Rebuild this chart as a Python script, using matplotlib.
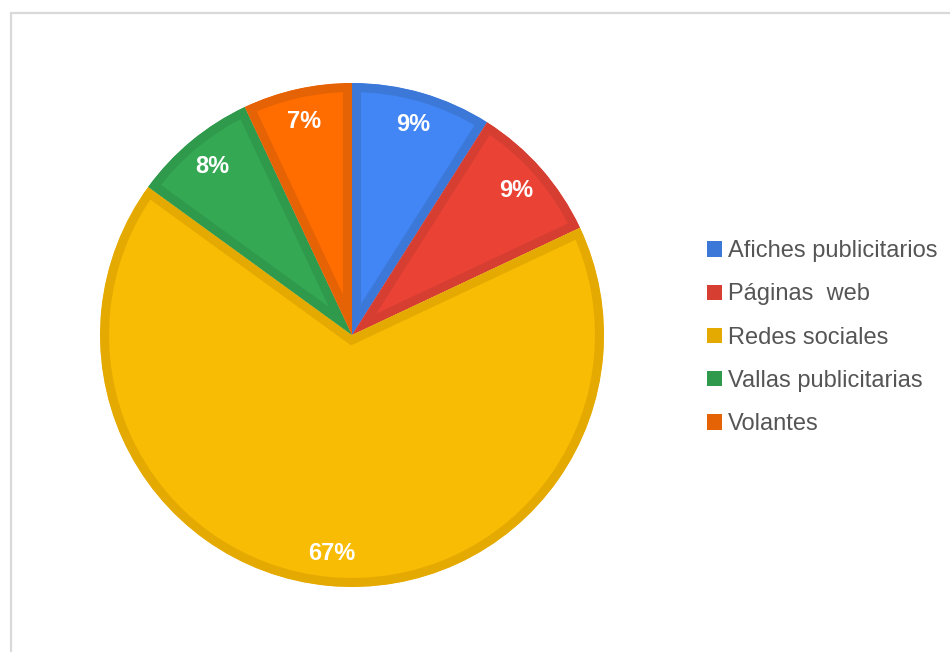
import matplotlib.pyplot as plt
from matplotlib.patches import Rectangle

# Datos de la encuesta: medio por el que conocieron la empresa
categorias = ["Afiches publicitarios", "Páginas  web", "Redes sociales",
              "Vallas publicitarias", "Volantes"]
porcentajes = [9, 9, 67, 8, 7]

colores = ["#4285F4", "#EA4335", "#F9BC04", "#34A853", "#FF6D01"]
bordes = ["#3C78D8", "#D63E32", "#E4AA02", "#2F994C", "#E56205"]

plt.rcParams['font.family'] = ['Liberation Sans', 'DejaVu Sans']

fig = plt.figure(figsize=(9.5, 6.52), dpi=100)

# marco gris claro del gráfico
fig.patches.append(Rectangle((11 / 950, -0.05), 1.0, (652 - 13) / 652 + 0.05,
                             transform=fig.transFigure, fill=False,
                             edgecolor="#d9d9d9", linewidth=1.6))

ax = fig.add_axes([0.1053, 0.0997, 0.5305, 0.773])
wedges, textos, autotextos = ax.pie(
    porcentajes, colors=colores, startangle=90, counterclock=False,
    radius=1.0, autopct=lambda p: f"{p:.0f}%", pctdistance=0.87,
    textprops=dict(color="white", fontsize=17, fontweight="bold"),
    wedgeprops=dict(linewidth=13, joinstyle="miter"))

# borde interior más oscuro en cada porción (el trazo se recorta a la porción)
for w, b in zip(wedges, bordes):
    w.set_edgecolor(b)
    w.set_clip_on(True)
    w.set_clip_path(w)

ax.set_xlim(-1, 1)
ax.set_ylim(-1, 1)
ax.set_aspect("equal")
ax.axis("off")

# leyenda a la derecha
handles = [Rectangle((0, 0), 1, 1, facecolor=b, edgecolor="none") for b in bordes]
leg = fig.legend(handles, categorias, loc="center left",
                 bbox_to_anchor=(0.722, 0.482), frameon=False,
                 fontsize=17, labelcolor="#555555", handlelength=0.62,
                 handleheight=0.62, handletextpad=0.25, labelspacing=0.9)

fig.savefig("out.png", dpi=100, facecolor="white")
